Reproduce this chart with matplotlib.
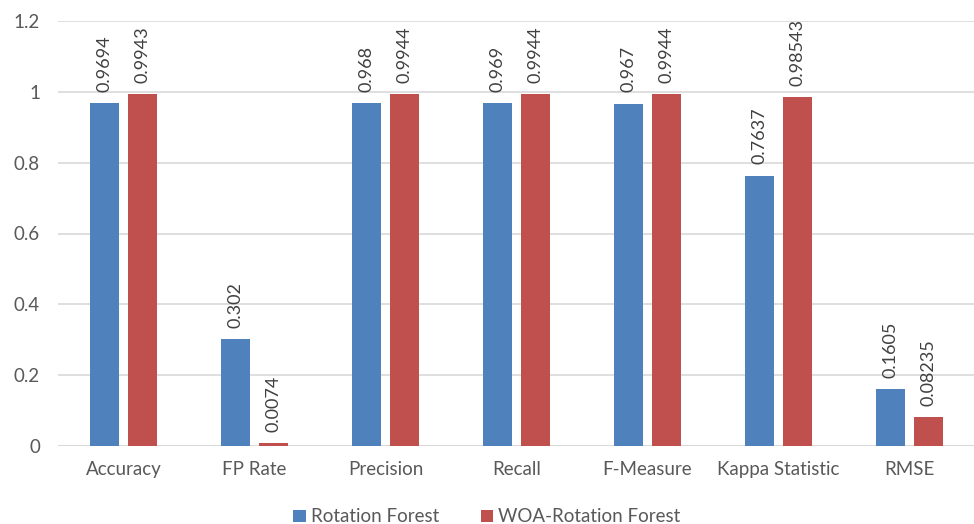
import matplotlib
matplotlib.use("Agg")
import matplotlib.pyplot as plt
import numpy as np

categories = ["Accuracy", "FP Rate", "Precision", "Recall", "F-Measure", "Kappa Statistic", "RMSE"]
rotation_forest = [0.9694, 0.302, 0.968, 0.969, 0.967, 0.7637, 0.1605]
woa_rotation_forest = [0.9943, 0.0074, 0.9944, 0.9944, 0.9944, 0.98543, 0.08235]
rf_labels = ["0.9694", "0.302", "0.968", "0.969", "0.967", "0.7637", "0.1605"]
woa_labels = ["0.9943", "0.0074", "0.9944", "0.9944", "0.9944", "0.98543", "0.08235"]
series_names = ["Rotation Forest", "WOA-Rotation Forest"]
yticks = [0, 0.2, 0.4, 0.6, 0.8, 1.0, 1.2]
ytick_labels = ["0", "0.2", "0.4", "0.6", "0.8", "1", "1.2"]

blue = "#4F81BD"
red = "#C0504D"
text_color = "#595959"
grid_color = "#D9D9D9"

plt.rcParams["font.family"] = ["Lato", "DejaVu Sans"]

fig = plt.figure(figsize=(9.74, 5.24), dpi=100)
ax = fig.add_axes([58 / 974, 1 - 446 / 524, 917 / 974, (446 - 21) / 524])

x = np.arange(len(categories))
w = 0.22
off = 0.145
b1 = ax.bar(x - off, rotation_forest, w, color=blue, label=series_names[0], zorder=3)
b2 = ax.bar(x + off, woa_rotation_forest, w, color=red, label=series_names[1], zorder=3)

for bars, labels in ((b1, rf_labels), (b2, woa_labels)):
    for rect, lab in zip(bars, labels):
        ax.annotate(lab, (rect.get_x() + rect.get_width() / 2, rect.get_height()),
                    xytext=(0, 8), textcoords="offset points",
                    rotation=90, ha="center", va="bottom",
                    fontsize=13, color="#404040")

ax.set_xlim(-0.5, len(categories) - 0.5)
ax.set_ylim(0, 1.2)
ax.set_yticks(yticks)
ax.set_yticklabels(ytick_labels)
ax.set_xticks(x)
ax.set_xticklabels(categories)
ax.tick_params(axis="both", length=0, labelsize=13.5, colors=text_color)
ax.tick_params(axis="x", pad=11)
ax.tick_params(axis="y", pad=13)
for lbl in ax.get_yticklabels():
    lbl.set_horizontalalignment("right")

ax.yaxis.grid(True, color=grid_color, linewidth=1.2, zorder=0)
ax.set_axisbelow(True)
for s in ax.spines.values():
    s.set_visible(False)
ax.axhline(0, color=grid_color, linewidth=1.5, zorder=1)

fig.legend(handles=[b1, b2], labels=series_names, loc="lower center",
           bbox_to_anchor=(0.5, -0.035), ncol=2, frameon=False,
           fontsize=13.5, labelcolor=text_color, handlelength=0.65,
           handleheight=0.65, handletextpad=0.3, columnspacing=2.2)

fig.savefig("out.png", dpi=100)
